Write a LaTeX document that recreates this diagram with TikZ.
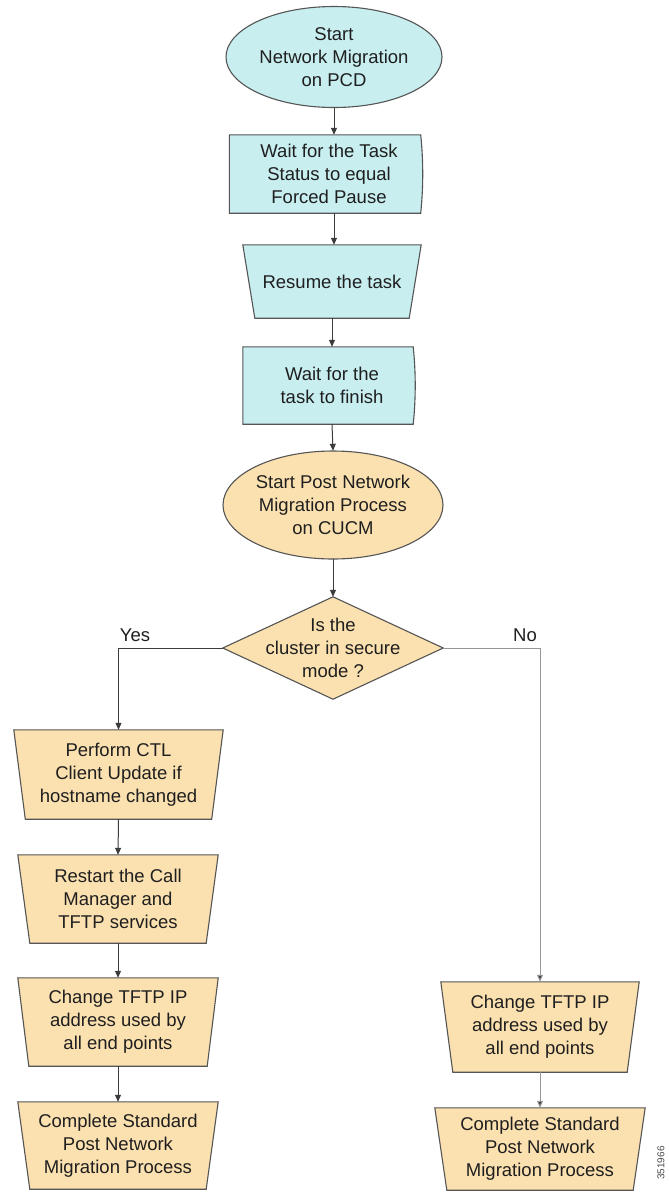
\documentclass[tikz,border=0pt]{standalone}
\usepackage{fontspec}
\setmainfont{Liberation Sans}
\usetikzlibrary{backgrounds,arrows.meta,calc}
\definecolor{cyanfill}{RGB}{200,238,240}
\definecolor{orangefill}{RGB}{251,225,176}
\definecolor{edgecol}{RGB}{85,85,85}
\definecolor{linecol}{RGB}{60,60,60}
\definecolor{lightline}{RGB}{150,150,150}
\newcommand\trapbox[3]{\filldraw[#3] (#1.north west) -- (#1.north east) -- ($(#1.south east)+(-#2,0)$) -- ($(#1.south west)+(#2,0)$) -- cycle;}
\newcommand\waitbox[3]{\filldraw[#3] (#1.north west) -- ($(#1.north east)+(-#2,0)$) .. controls ($(#1.north east)+(2.7-#2,0.333*\pgfkeysvalueof{/my/h})$) and ($(#1.south east)+(2.7-#2,-0.333*\pgfkeysvalueof{/my/h})$) .. ($(#1.south east)+(-#2,0)$) -- (#1.south west) -- cycle;}
\pgfkeys{/my/h/.initial=78}
\begin{document}
\begin{tikzpicture}[x=1pt,y=-1pt,
  txt/.style={inner sep=0pt, align=center, font=\fontsize{18.5}{22.8}\selectfont, text=black!88},
  cshape/.style={fill=cyanfill, draw=edgecol, line width=1.1pt},
  oshape/.style={fill=orangefill, draw=edgecol, line width=1.1pt},
  arr/.style={draw=linecol, line width=1pt, -{Triangle[length=7pt,width=6pt]}},
  arrlight/.style={draw=lightline, line width=1pt, -{Triangle[length=7pt,width=6pt,fill=linecol]}},
  lbl/.style={inner sep=0pt, font=\fontsize{18.5}{22}\selectfont, text=black!88}]
\useasboundingbox (0,0) rectangle (669,1192);

% nodes (text)
\node[txt, minimum width=216pt, minimum height=101pt] (e1) at (334,57) {Start\\Network Migration\\on PCD};
\node[txt, minimum width=199pt, minimum height=78pt] (w1) at (329,174) {Wait for the Task\\Status to equal\\Forced Pause};
\node[txt, minimum width=178pt, minimum height=73pt] (r) at (332,281.5) {Resume the task};
\node[txt, minimum width=178pt, minimum height=77pt] (w2) at (332,385.5) {Wait for the\\task to finish};
\node[txt, minimum width=220pt, minimum height=108pt] (e2) at (333,505) {Start Post Network\\Migration Process\\on CUCM};
\node[txt, minimum width=220pt, minimum height=102pt] (d) at (333,648) {Is the\\cluster in secure\\mode ?};
\node[lbl, anchor=base] (yes) at (135,641) {Yes};
\node[lbl, anchor=base] (no) at (525,641) {No};

\node[txt, minimum width=209pt, minimum height=89pt] (l1) at (118.5,774.5) {Perform CTL\\Client Update if\\hostname changed};
\node[txt, minimum width=200pt, minimum height=88pt] (l2) at (118,899) {Restart the Call\\Manager and\\TFTP services};
\node[txt, minimum width=200pt, minimum height=88pt] (l3) at (118,1022) {Change TFTP IP\\address used by\\all end points};
\node[txt, minimum width=200pt, minimum height=87pt] (l4) at (118,1145.5) {Complete Standard\\Post Network\\Migration Process};

\node[txt, minimum width=198pt, minimum height=90pt] (r1) at (540,1027) {Change TFTP IP\\address used by\\all end points};
\node[txt, minimum width=210pt, minimum height=82pt] (r2) at (540,1149) {Complete Standard\\Post Network\\Migration Process};

\node[inner sep=0pt, rotate=90, font=\fontsize{10}{10}\selectfont, text=black!70] (id) at (661,1163) {351966};

% shapes
\begin{scope}[on background layer]
  \fill[white] (0,0) rectangle (669,1192);
  \filldraw[cshape] (e1.center) ellipse [x radius=108pt, y radius=50.5pt];
  \pgfkeys{/my/h=78}
  \waitbox{w1}{8}{cshape}
  \trapbox{r}{12}{cshape}
  \pgfkeys{/my/h=77}
  \waitbox{w2}{8}{cshape}
  \filldraw[oshape] (e2.center) ellipse [x radius=110pt, y radius=54pt];
  \filldraw[oshape] (d.west) -- (d.north) -- (d.east) -- (d.south) -- cycle;
  \trapbox{l1}{11.5}{oshape}
  \trapbox{l2}{12}{oshape}
  \trapbox{l3}{11}{oshape}
  \trapbox{l4}{12}{oshape}
  \trapbox{r1}{12}{oshape}
  \trapbox{r2}{12}{oshape}
\end{scope}

% connectors
\draw[arr] (e1.south) -- (w1.north -| e1.south);
\draw[arr] (w1.south -| e1.south) -- (r.north -| e1.south);
\draw[arr] (r.south) -- (w2.north);
\draw[arr] (w2.south) -- (e2.north);
\draw[arr] (e2.south) -- (d.north);
\draw[arr] (d.west) -| (l1.north);
\draw[arrlight] (d.east) -| (r1.north);
\draw[arr] (l1.south) -- (l2.north);
\draw[arr] (l2.south) -- (l3.north);
\draw[arr] (l3.south) -- (l4.north);
\draw[arrlight] (r1.south) -- (r2.north);
\end{tikzpicture}
\end{document}
